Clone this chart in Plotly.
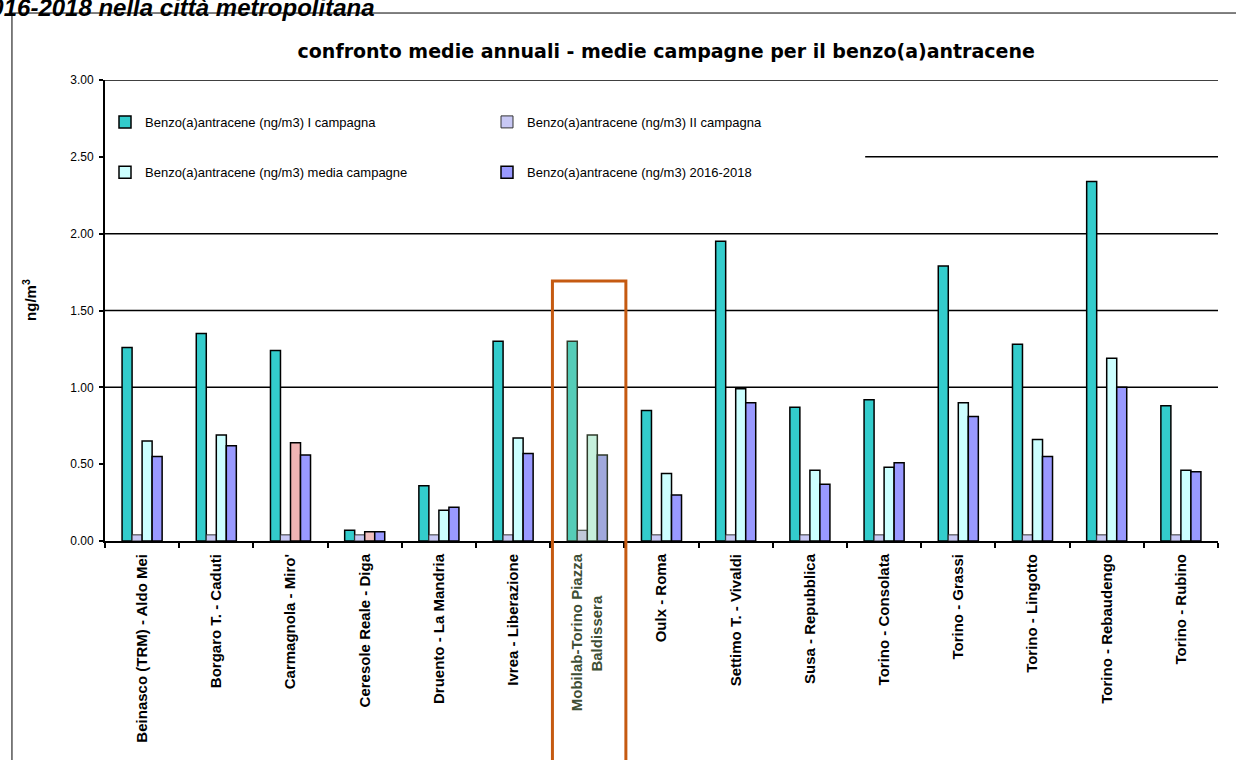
import plotly.graph_objects as go

categories = [
    "Beinasco (TRM) - Aldo Mei", "Borgaro T. - Caduti", "Carmagnola - Miro'",
    "Ceresole Reale - Diga", "Druento - La Mandria", "Ivrea - Liberazione",
    "Mobilab-Torino Piazza<br>Baldissera", "Oulx - Roma", "Settimo T. - Vivaldi",
    "Susa - Repubblica", "Torino - Consolata", "Torino - Grassi",
    "Torino - Lingotto", "Torino - Rebaudengo", "Torino - Rubino",
]
campagna_1 = [1.26, 1.35, 1.24, 0.07, 0.36, 1.30, 1.30, 0.85, 1.95, 0.87, 0.92, 1.79, 1.28, 2.34, 0.88]
campagna_2 = [0.04, 0.04, 0.04, 0.04, 0.04, 0.04, 0.07, 0.04, 0.04, 0.04, 0.04, 0.04, 0.04, 0.04, 0.04]
media_campagne = [0.65, 0.69, 0.64, 0.06, 0.20, 0.67, 0.69, 0.44, 0.99, 0.46, 0.48, 0.90, 0.66, 1.19, 0.46]
media_2016_2018 = [0.55, 0.62, 0.56, 0.06, 0.22, 0.57, 0.56, 0.30, 0.90, 0.37, 0.51, 0.81, 0.55, 1.00, 0.45]
y_ticks = [0.0, 0.5, 1.0, 1.5, 2.0, 2.5, 3.0]
series_names = [
    "Benzo(a)antracene (ng/m3) I campagna",
    "Benzo(a)antracene (ng/m3) II campagna",
    "Benzo(a)antracene (ng/m3) media campagne",
    "Benzo(a)antracene (ng/m3) 2016-2018",
]

HL = 6  # highlighted station index (Mobilab)
n = len(categories)

def colors(base, hl):
    return [hl if i == HL else base for i in range(n)]

def linecols(base):
    return ["#2F3A2A" if i == HL else base for i in range(n)]

media_colors = ["#CCFFFF"] * n
media_colors[2] = "#F0B4B4"
media_colors[3] = "#F2C0C0"
media_colors[HL] = "#C6F0DC"

FONT = "Liberation Sans, Arial, sans-serif"

fig = go.Figure()
fig.add_trace(go.Bar(x=categories, y=campagna_1, name=series_names[0], legend="legend",
                     marker=dict(color=colors("#33CCCC", "#55CDB8"),
                                 line=dict(color=linecols("#000000"), width=1.5))))
fig.add_trace(go.Bar(x=categories, y=campagna_2, name=series_names[1], legend="legend",
                     marker=dict(color=colors("#C8C8F4", "#C0C8D8"),
                                 line=dict(color=linecols("#333333"), width=1))))
fig.add_trace(go.Bar(x=categories, y=media_campagne, name=series_names[2], legend="legend2",
                     marker=dict(color=media_colors,
                                 line=dict(color=linecols("#000000"), width=1.5))))
fig.add_trace(go.Bar(x=categories, y=media_2016_2018, name=series_names[3], legend="legend2",
                     marker=dict(color=colors("#9999FF", "#A0A8DC"),
                                 line=dict(color=linecols("#000000"), width=1.5))))

ticktext = ["<b>%s</b>" % c for c in categories]
hl_label = categories[HL].replace("Baldissera", "Baldissera" + "\u2007" * 5)
ticktext[HL] = "<span style='color:#3E4E34'><b>%s</b></span>" % hl_label

shapes = []
for gy in [1.0, 1.5, 2.0, 3.0]:
    shapes.append(dict(type="line", xref="paper", yref="y", x0=0, x1=1, y0=gy, y1=gy,
                       line=dict(color="black", width=1.5), layer="below"))
shapes.append(dict(type="line", xref="paper", yref="y", x0=0.683, x1=1, y0=2.5, y1=2.5,
                   line=dict(color="black", width=1.5), layer="below"))
# outer chart frame
shapes.append(dict(type="rect", xref="paper", yref="paper", x0=-0.0836, x1=1.2, y0=-1.0, y1=1.1453,
                   line=dict(color="black", width=1), fillcolor="rgba(0,0,0,0)", layer="below"))
# highlight box around Mobilab
shapes.append(dict(type="rect", xref="x", yref="paper", x0=HL - 0.47, x1=HL + 0.52, y0=-1.0, y1=0.564,
                   line=dict(color="#C55A11", width=3), fillcolor="rgba(0,0,0,0)", layer="above"))

legend_common = dict(orientation="h", x=0, xanchor="left", yanchor="middle",
                     entrywidth=337, entrywidthmode="pixels", bgcolor="rgba(0,0,0,0)",
                     font=dict(family=FONT, size=13, color="black"), traceorder="normal")

fig.update_layout(
    width=1236, height=760,
    margin=dict(l=105, r=18, t=80, b=219),
    paper_bgcolor="white", plot_bgcolor="white",
    barmode="group", bargap=0.46, bargroupgap=0,
    font=dict(family=FONT, size=12, color="black"),
    title=dict(text="<b>confronto medie annuali - medie campagne per il benzo(a)antracene</b>",
               x=0.539, xanchor="center", y=1 - 51 / 760, yanchor="middle", yref="container",
               font=dict(family="DejaVu Sans, sans-serif", size=19, color="black")),
    legend=dict(y=0.909, **legend_common),
    legend2=dict(y=0.800, **legend_common),
    xaxis=dict(type="category", tickmode="array", tickvals=categories, ticktext=ticktext,
               tickangle=-90, tickson="boundaries", ticks="outside", ticklen=5, tickwidth=1.5,
               tickcolor="black", showline=True, linecolor="black", linewidth=2, ticklabelstandoff=5,
               showgrid=False, tickfont=dict(family=FONT, size=15, color="black")),
    yaxis=dict(range=[0, 3], tickvals=y_ticks, ticktext=["%.2f" % v for v in y_ticks],
               ticks="outside", ticklen=4, tickwidth=1.5, tickcolor="black", ticklabelstandoff=3,
               showline=True, linecolor="black", linewidth=2, showgrid=False, zeroline=False,
               tickfont=dict(family=FONT, size=12, color="black")),
    shapes=shapes,
    annotations=[
        dict(text="<b>ng/m<sup>3</sup></b>", xref="paper", yref="paper", x=-0.0674, y=0.523,
             xanchor="center", yanchor="middle",
             textangle=-90, showarrow=False, font=dict(family=FONT, size=15, color="black")),
        dict(text="<b><i>2016-2018 nella città metropolitana</i></b>", xref="paper", yref="paper",
             x=-0.1177, xanchor="left", y=1.1562, yanchor="middle", showarrow=False,
             font=dict(family=FONT, size=24, color="black")),
    ],
)

fig.write_html("out.html", config={"displayModeBar": False})

# remove the default page margin so the figure sits at the window's top-left corner
with open("out.html", "r", encoding="utf-8") as f:
    html = f.read()
html = html.replace("<body>", '<body style="margin:0;padding:0;overflow:hidden;">', 1)
with open("out.html", "w", encoding="utf-8") as f:
    f.write(html)
